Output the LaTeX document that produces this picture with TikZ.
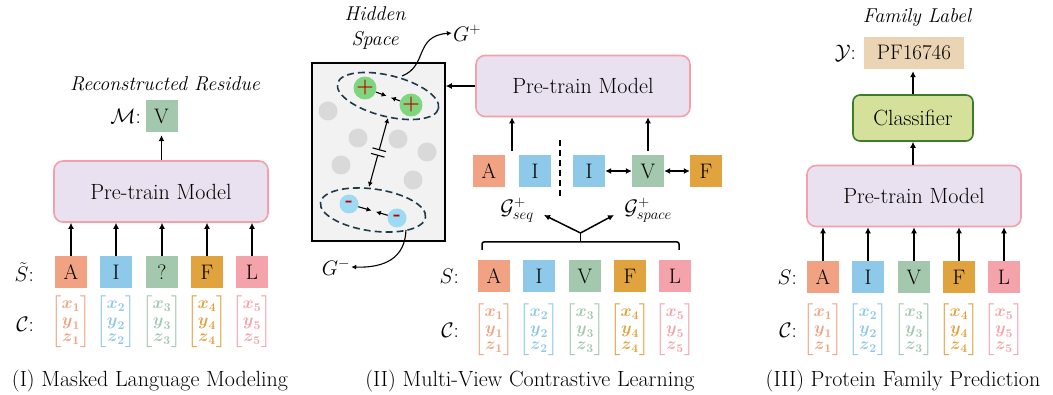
\RequirePackage{fix-cm}
\documentclass[tikz,border=0pt]{standalone}
\usepackage{amsmath}
\usetikzlibrary{positioning,calc,arrows.meta,shapes.geometric}

\definecolor{resA}{HTML}{F0A283}
\definecolor{resI}{HTML}{8EC9E9}
\definecolor{resV}{HTML}{A3C8AE}
\definecolor{resF}{HTML}{E0A33E}
\definecolor{resL}{HTML}{F4A3AB}
\definecolor{ptfill}{HTML}{E9E1EF}
\definecolor{ptline}{HTML}{F2A1AA}
\definecolor{clsfill}{HTML}{D5E09B}
\definecolor{clsline}{HTML}{3D7D28}
\definecolor{famfill}{HTML}{EBD4B4}
\definecolor{spacefill}{HTML}{F2F2F2}
\definecolor{dotgray}{HTML}{D9D9D9}
\definecolor{posfill}{HTML}{7ED67E}
\definecolor{negfill}{HTML}{9FDAF4}
\definecolor{ringline}{HTML}{1E3A4C}
\definecolor{signred}{HTML}{C00000}

\newcommand{\coordvec}[1]{$\left[\begin{matrix}\boldsymbol{x}_{\mathbf{#1}}\\ \boldsymbol{y}_{\mathbf{#1}}\\ \boldsymbol{z}_{\mathbf{#1}}\end{matrix}\right]$}

\tikzset{
  res/.style={minimum size=32pt, inner sep=0pt, font=\fontsize{21}{24}\selectfont},
  ptmodel/.style={draw=ptline, fill=ptfill, line width=1.6pt, rounded corners=9pt,
    minimum width=214pt, minimum height=61pt, font=\fontsize{22}{26}\selectfont},
  clsbox/.style={draw=clsline, fill=clsfill, line width=1.6pt, rounded corners=7pt,
    minimum width=120pt, minimum height=46pt, font=\fontsize{22}{26}\selectfont},
  coordcol/.style={inner sep=0pt, font=\fontsize{17}{16.5}\selectfont},
  lbl/.style={inner sep=1pt, font=\fontsize{21}{24}\selectfont},
  itl/.style={font=\fontsize{20}{25}\selectfont\itshape},
  captext/.style={font=\fontsize{22}{26}\selectfont},
  dot/.style={circle, fill=dotgray, minimum size=19pt, inner sep=0pt},
  sign/.style={circle, minimum size=19pt, inner sep=0pt, text=signred,
    font=\fontsize{20}{20}\selectfont\bfseries},
  ring/.style={ellipse, draw=ringline, dashed, dash pattern=on 7pt off 4pt, line width=1.6pt},
  arr/.style={-{Latex[length=6pt,width=6pt]}, line width=1.5pt},
  darr/.style={{Latex[length=6pt,width=6pt]}-{Latex[length=6pt,width=6pt]}, line width=1.5pt},
  sarr/.style={-{Latex[length=5pt,width=5pt]}, line width=1.1pt}
}

\begin{document}
\begin{tikzpicture}[x=1pt,y=-1pt]
  \useasboundingbox (0,0) rectangle (1053,395);

  % (I) masked language modeling
  \node[ptmodel] (pt1) at (161,191.5) {Pre-train Model};
  \node[res, fill=resV] (m1) at (161.5,116) {V};
  \node[lbl, anchor=east] (m1l) at (142,116) {$\mathcal{M}$:};
  \node[itl] (rec) at (165,84) {Reconstructed Residue};
  \node[res, fill=resA] (a1) at (71,272) {A};
  \node[res, fill=resI] (i1) at (116,272) {I};
  \node[res, fill=resV] (q1) at (162,272) {?};
  \node[res, fill=resF] (f1) at (207,272) {F};
  \node[res, fill=resL] (l1) at (252,272) {L};
  \node[lbl, anchor=east] (s1l) at (35,272) {$\tilde{S}$:};
  \node[coordcol, text=resA] (ca1) at (71,322) {\coordvec{1}};
  \node[coordcol, text=resI] (ci1) at (116,322) {\coordvec{2}};
  \node[coordcol, text=resV] (cq1) at (162,322) {\coordvec{3}};
  \node[coordcol, text=resF] (cf1) at (207,322) {\coordvec{4}};
  \node[coordcol, text=resL] (cl1) at (252,322) {\coordvec{5}};
  \node[lbl, anchor=east] (c1l) at (35,324) {$\mathcal{C}$:};
  \draw[arr] (a1) -- (a1 |- pt1.south);
  \draw[arr] (i1) -- (i1 |- pt1.south);
  \draw[arr] (q1) -- (q1 |- pt1.south);
  \draw[arr] (f1) -- (f1 |- pt1.south);
  \draw[arr] (l1) -- (l1 |- pt1.south);
  \draw[arr, shorten >=3pt] (pt1.north -| m1) -- (m1.south);
  \node[captext] (cap1) at (150,381) {(I) Masked Language Modeling};

  % (II) multi-view contrastive learning
  \node[itl, align=center] (hidl) at (375,28) {Hidden\\Space};
  \node[draw, fill=spacefill, line width=1.5pt, minimum width=133pt,
    minimum height=178pt] (hid) at (378.5,152) {};
  \node[dot] (d1) at (328,111) {};
  \node[dot] (d2) at (358,138) {};
  \node[dot] (d3) at (398,139) {};
  \node[dot] (d4) at (427,152) {};
  \node[dot] (d5) at (341,165) {};
  \node[dot] (d6) at (413,180) {};
  \node[ring, minimum width=104pt, minimum height=41pt, rotate=-14] (posring) at (388,96) {};
  \node[ring, minimum width=106pt, minimum height=42pt, rotate=-8] (negring) at (373,210) {};
  \node[sign, fill=posfill] (p1) at (365,88) {+};
  \node[sign, fill=posfill] (p2) at (411,105) {+};
  \node[sign, fill=negfill] (n1) at (349,204) {-};
  \node[sign, fill=negfill] (n2) at (397,218) {-};
  \draw[sarr] (p1) -- ($(p1)!0.47!(p2)$);
  \draw[sarr] (p2) -- ($(p1)!0.56!(p2)$);
  \draw[sarr] (n1) -- ($(n1)!0.47!(n2)$);
  \draw[sarr] (n2) -- ($(n1)!0.56!(n2)$);
  \coordinate (posbot) at (388,118);
  \coordinate (negtop) at (369,187);
  \coordinate (brkup) at ($(posbot)!0.46!(negtop)$);
  \coordinate (brkdn) at ($(posbot)!0.54!(negtop)$);
  \draw[sarr] (brkup) -- (posbot);
  \draw[sarr] (brkdn) -- (negtop);
  \draw[line width=1.1pt] ($(brkup)!7pt!90:(posbot)$) -- ($(brkup)!7pt!-90:(posbot)$);
  \draw[line width=1.1pt] ($(brkdn)!7pt!90:(negtop)$) -- ($(brkdn)!7pt!-90:(negtop)$);
  \node[lbl] (gpos) at (467,33) {$G^{+}$};
  \node[lbl] (gneg) at (336,267) {$G^{-}$};
  \coordinate (posout) at (402,76);
  \coordinate (negout) at (406,230);
  \draw[sarr] (posout) .. controls (428,66) and (414,36) .. (gpos.west);
  \draw[sarr] (negout) .. controls (405,258) and (385,268) .. (gneg.east);

  \node[ptmodel] (pt2) at (583,86) {Pre-train Model};
  \draw[arr] (pt2.west) -- (pt2.west -| hid.east);
  \node[res, fill=resA] (a2) at (489,171) {A};
  \node[res, fill=resI] (i2) at (535,171) {I};
  \node[res, fill=resI] (i3) at (589,171) {I};
  \node[res, fill=resV] (v2) at (648,171) {V};
  \node[res, fill=resF] (f2) at (706,171) {F};
  \coordinate (septop) at (560,140);
  \coordinate (sepbot) at (560,198);
  \draw[dashed, dash pattern=on 6pt off 4pt, line width=1.5pt] (septop) -- (sepbot);
  \coordinate (seqin) at ($(a2.north)!0.5!(i2.north)+(0,-4)$);
  \draw[arr] (seqin) -- (seqin |- pt2.south);
  \draw[arr, shorten <=4pt] (v2) -- (v2 |- pt2.south);
  \draw[darr] (i3) -- (v2);
  \draw[darr] (v2) -- (f2);
  \node[lbl] (gseq) at (517,210) {$\mathcal{G}^{+}_{seq}$};
  \node[lbl] (gspace) at (648,210) {$\mathcal{G}^{+}_{space}$};
  % bracket over the full sequence
  \coordinate (brL) at (482,250);
  \coordinate (brR) at (679,250);
  \coordinate (brmid) at (580.5,242);
  \coordinate (brtip) at (580.5,233);
  \draw[line width=1.5pt, rounded corners=2pt] (brL) |- (brmid) -| (brR);
  \draw[line width=1.5pt] (brmid) -- (brtip);
  \draw[arr] (brtip) -- (544,215);
  \draw[arr] (brtip) -- (614,215);
  \node[res, fill=resA] (a3) at (494,276) {A};
  \node[res, fill=resI] (i4) at (539,276) {I};
  \node[res, fill=resV] (v3) at (585,276) {V};
  \node[res, fill=resF] (f3) at (630,276) {F};
  \node[res, fill=resL] (l3) at (675,276) {L};
  \node[lbl, anchor=east] (s2l) at (460,276) {$S$:};
  \node[coordcol, text=resA] (ca3) at (494,330) {\coordvec{1}};
  \node[coordcol, text=resI] (ci4) at (539,330) {\coordvec{2}};
  \node[coordcol, text=resV] (cv3) at (585,330) {\coordvec{3}};
  \node[coordcol, text=resF] (cf3) at (630,330) {\coordvec{4}};
  \node[coordcol, text=resL] (cl3) at (675,330) {\coordvec{5}};
  \node[lbl, anchor=east] (c2l) at (460,330) {$\mathcal{C}$:};
  \node[captext] (cap2) at (530,381) {(II) Multi-View Contrastive Learning};

  % (III) protein family prediction
  \node[ptmodel] (pt3) at (914,196) {Pre-train Model};
  \node[clsbox] (cls) at (913,118) {Classifier};
  \node[res, fill=famfill, minimum width=100pt] (fam) at (914,53) {PF16746};
  \node[lbl, anchor=east] (yl) at (857,53) {$\mathcal{Y}$:};
  \node[itl] (faml) at (917,18) {Family Label};
  \draw[arr] (pt3.north -| cls) -- (cls.south);
  \draw[arr, shorten >=2pt] (cls.north) -- (cls.north |- fam.south);
  \node[res, fill=resA] (a4) at (823,277) {A};
  \node[res, fill=resI] (i5) at (868,277) {I};
  \node[res, fill=resV] (v4) at (914,277) {V};
  \node[res, fill=resF] (f4) at (959,277) {F};
  \node[res, fill=resL] (l4) at (1004,277) {L};
  \node[lbl, anchor=east] (s3l) at (798,277) {$S$:};
  \node[coordcol, text=resA] (ca4) at (823,330) {\coordvec{1}};
  \node[coordcol, text=resI] (ci5) at (868,330) {\coordvec{2}};
  \node[coordcol, text=resV] (cv4) at (914,330) {\coordvec{3}};
  \node[coordcol, text=resF] (cf4) at (959,330) {\coordvec{4}};
  \node[coordcol, text=resL] (cl4) at (1004,330) {\coordvec{5}};
  \node[lbl, anchor=east] (c3l) at (798,330) {$\mathcal{C}$:};
  \draw[arr] (a4) -- (a4 |- pt3.south);
  \draw[arr] (i5) -- (i5 |- pt3.south);
  \draw[arr] (v4) -- (v4 |- pt3.south);
  \draw[arr] (f4) -- (f4 |- pt3.south);
  \draw[arr] (l4) -- (l4 |- pt3.south);
  \node[captext] (cap3) at (903,381) {(III) Protein Family Prediction};
\end{tikzpicture}
\end{document}
